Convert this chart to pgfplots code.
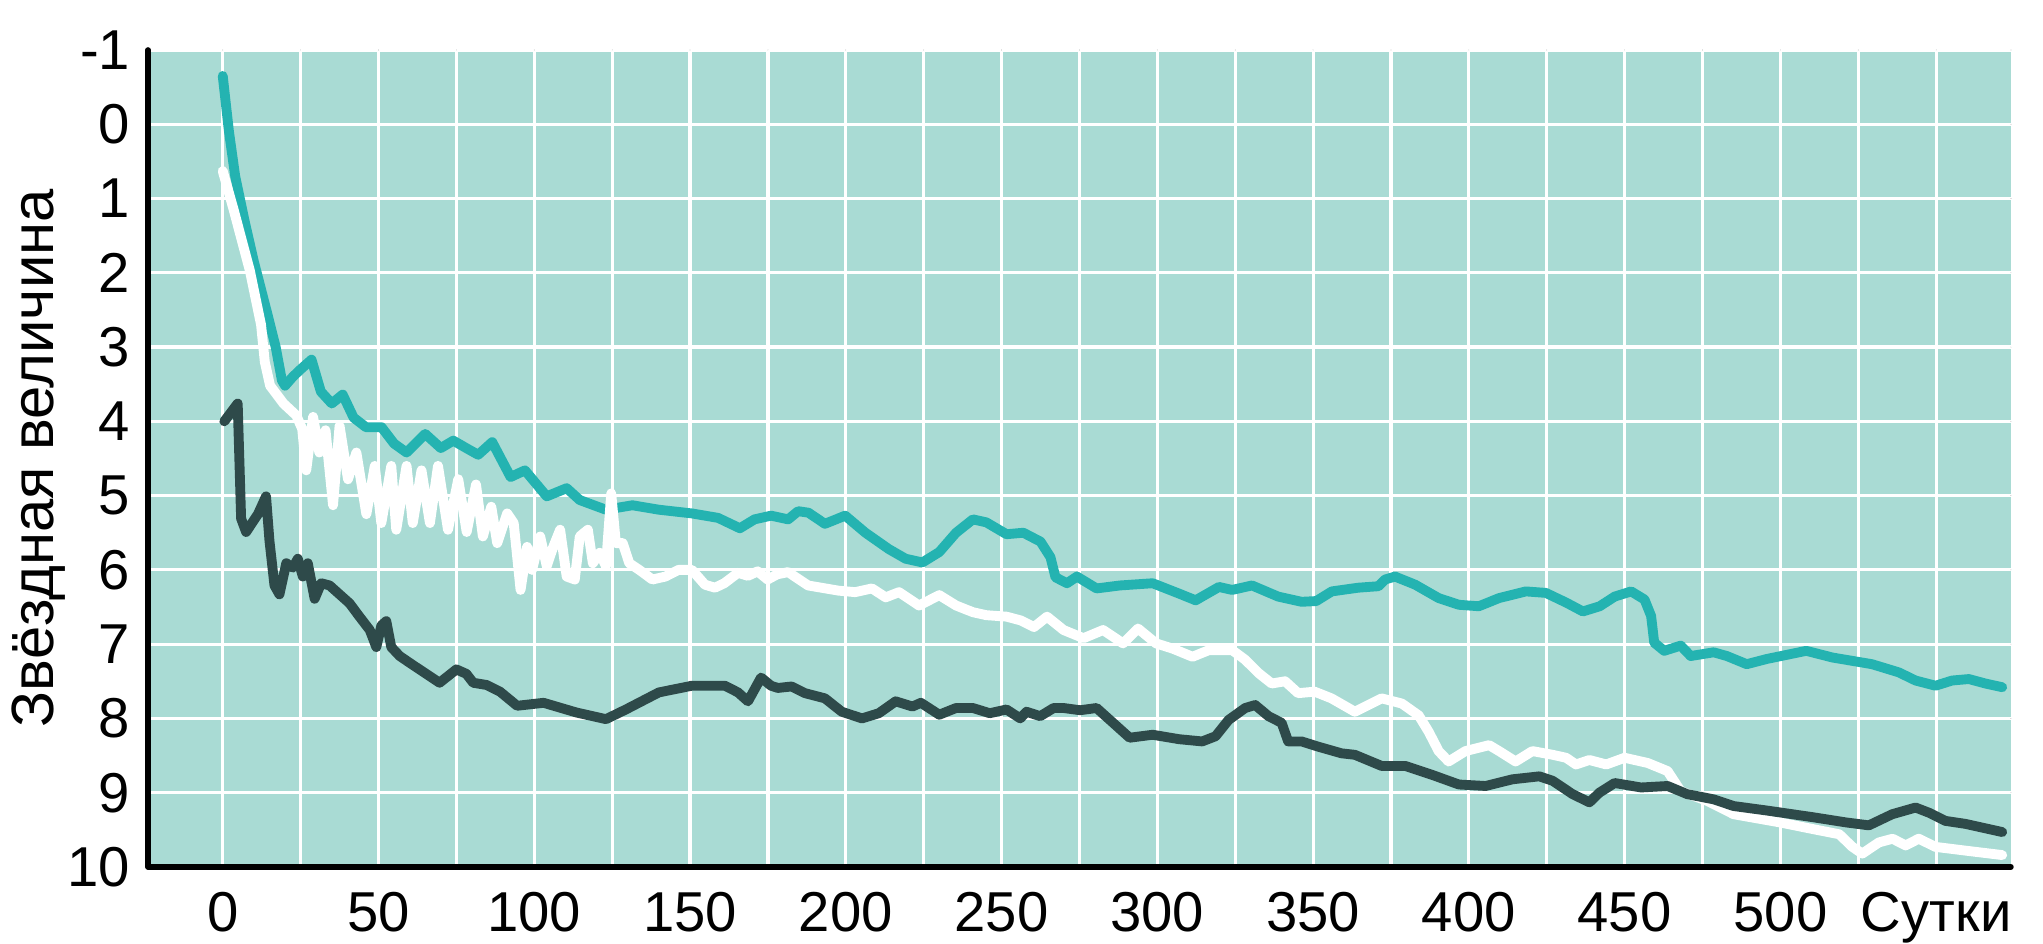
\documentclass[border=0pt]{standalone}
\usepackage{pgfplots}
\pgfplotsset{compat=1.18}
\usepackage{fontspec}
\setmainfont{Liberation Sans}

\definecolor{bgteal}{HTML}{A9DBD4}
\definecolor{lineteal}{HTML}{24B3B1}
\definecolor{linedark}{HTML}{2E4A4A}

\begin{document}
\begin{tikzpicture}
\begin{axis}[
    scale only axis,
    width=18.63cm, height=8.17cm,
    xmin=-24, xmax=574,
    ymin=-1, ymax=10,
    y dir=reverse,
    axis background/.style={fill=bgteal},
    axis line style={draw=none},
    major tick length=0pt, minor tick length=0pt,
    xtick={0,50,...,550},
    xticklabels={0,50,100,150,200,250,300,350,400,450,500,Сутки},
    minor xtick={25,75,...,525},
    ytick={-1,0,...,10},
    yticklabels={-1,0,1,2,3,4,5,6,7,8,9,10},
    grid=both,
    major grid style={white, line width=0.9pt},
    minor grid style={white, line width=0.9pt},
    tick label style={font=\fontsize{16}{19}\selectfont, inner sep=0pt},
    xticklabel style={anchor=north, yshift=-0.25cm},
    yticklabel style={anchor=east, xshift=-0.17cm},
    ylabel={Звёздная величина},
    every axis y label/.style={at={(axis description cs:-0.0585,0.5)},rotate=90,anchor=center,inner sep=0pt,font=\fontsize{17}{20}\selectfont},
    clip=false,
    no markers,
    line join=round, line cap=round,
]
% teal
\addplot[lineteal, line width=2.8pt] coordinates {
(0,-0.65) (2,0.1) (4,0.7) (7,1.3) (10,1.85) (14,2.5) (17,3.0) (19,3.45) (20,3.52)
(22.5,3.4) (25,3.3) (28.5,3.17) (31.5,3.6) (35,3.76) (38.5,3.64) (42,3.95) (46,4.08)
(51,4.08) (55,4.3) (59,4.42) (65,4.17) (70,4.36) (74,4.26) (79,4.38) (82,4.45)
(86.5,4.28) (92.4,4.75) (97,4.66) (104,5.01) (110.4,4.9) (114.6,5.06) (123,5.19)
(131.5,5.13) (140,5.19) (150.6,5.24) (159,5.3) (166,5.44) (170.7,5.32) (176,5.27)
(181.5,5.32) (184.7,5.21) (188,5.23) (193.3,5.38) (199.8,5.27) (206.3,5.5) (213.8,5.72)
(219.2,5.85) (224.6,5.9) (230,5.76) (235.4,5.5) (240.8,5.32) (245.1,5.36) (251.6,5.52)
(257,5.5) (262.5,5.62) (265.7,5.83) (267.3,6.1) (271,6.18) (274.2,6.09) (280.5,6.25)
(288,6.21) (298.5,6.18) (307,6.32) (312.3,6.41) (319.8,6.23) (324,6.27) (330.4,6.21)
(338.8,6.36) (346.3,6.43) (351,6.42) (356,6.29) (364.5,6.24) (371,6.22) (373.1,6.13)
(376.3,6.09) (382.8,6.2) (390.3,6.38) (396.8,6.47) (403.2,6.49) (409.7,6.38) (418.3,6.29)
(424.7,6.31) (431.2,6.44) (436.6,6.56) (442,6.49) (446.8,6.36) (452.1,6.29) (456.4,6.4)
(458.5,6.62) (459.5,6.98) (462.7,7.09) (468,7.02) (471.2,7.16) (478.6,7.11) (482.8,7.16)
(489.2,7.27) (495.6,7.2) (508.3,7.09) (516.7,7.18) (529.4,7.27) (538,7.38) (543.4,7.49)
(549.8,7.56) (555.1,7.49) (560.5,7.47) (565.8,7.53) (571.2,7.58)
};
% white
\addplot[white, line width=2.8pt] coordinates {
(0,0.63) (3.5,1.15) (8.7,1.97) (12.3,2.7) (13.5,3.2) (15.2,3.52) (19.5,3.76) (23.6,3.92)
(25.5,4.1) (26.8,4.66) (29,3.94) (31,4.42) (33,4.12) (35.4,5.13) (37.5,4.06) (40.2,4.78)
(42.9,4.42) (46.1,5.25) (48.8,4.6) (50.9,5.37) (54.1,4.6) (55.7,5.46) (59,4.6) (61,5.37)
(63.8,4.66) (66.5,5.37) (69.1,4.6) (72.3,5.46) (75.6,4.78) (78.3,5.49) (81.3,4.85)
(83.5,5.55) (86.2,5.15) (88.1,5.64) (91.3,5.24) (93.4,5.37) (95.6,6.27) (97.7,5.69)
(99.3,6.0) (101.9,5.55) (104,5.95) (106,5.7) (108.3,5.46) (110.4,6.09) (113,6.13)
(114.6,5.55) (117.2,5.46) (118.8,5.91) (121,5.77) (123,5.95) (124.7,4.97) (126.2,5.64)
(128.4,5.64) (130.5,5.91) (133.7,6.0) (137.9,6.13) (142.1,6.09) (146.3,6.0) (150.6,6.0)
(154.8,6.2) (158,6.24) (161,6.18) (165.4,6.04) (168.6,6.08) (171.7,6.02) (174.9,6.13)
(178,6.06) (181.5,6.03) (187.9,6.21) (197.7,6.28) (203,6.3) (208.4,6.25) (212.8,6.37)
(217.1,6.3) (223.5,6.48) (230,6.34) (235.4,6.48) (240.8,6.57) (245.1,6.61) (251.6,6.63)
(256.1,6.68) (260.4,6.77) (264.6,6.63) (269.9,6.81) (276.3,6.92) (282.6,6.81) (289,6.99)
(293.8,6.79) (299.6,6.99) (304.9,7.06) (311.3,7.17) (316.6,7.08) (324,7.08) (328.2,7.21)
(332.5,7.39) (336.7,7.53) (341,7.5) (345.2,7.66) (350.5,7.64) (355.9,7.73) (363.4,7.91)
(372,7.73) (378.5,7.8) (383.9,7.96) (387.1,8.18) (390.3,8.44) (393.5,8.58) (398.9,8.44)
(406.5,8.36) (409.7,8.44) (415,8.58) (420.4,8.44) (426.9,8.49) (431.2,8.53) (434.4,8.62)
(438.7,8.56) (444.1,8.62) (450,8.53) (457.4,8.6) (463.8,8.71) (468,8.98) (476.5,9.11)
(485,9.29) (499.8,9.4) (510.4,9.49) (518.9,9.56) (523.1,9.73) (526.3,9.82) (531.6,9.67)
(536,9.62) (540.2,9.71) (544.4,9.62) (549.8,9.73) (559.4,9.78) (571.2,9.84)
};
% dark
\addplot[linedark, line width=2.8pt] coordinates {
(0.5,4.0) (4.8,3.76) (5.9,5.31) (7.5,5.49) (11.3,5.25) (13.9,5.01) (15,5.61) (16.6,6.21)
(18.2,6.33) (20.4,5.91) (22.5,5.97) (24.1,5.85) (25.7,6.09) (27.3,5.91) (29.5,6.39)
(31.6,6.18) (34.3,6.21) (37.5,6.33) (40.7,6.45) (43.9,6.63) (47.2,6.81) (49.3,7.04)
(50.9,6.75) (52.5,6.69) (54.1,7.04) (56.8,7.16) (61,7.28) (65.3,7.4) (69.6,7.52)
(75,7.34) (78.2,7.4) (80.4,7.52) (84.7,7.55) (89,7.64) (94.5,7.83) (103,7.79)
(113.5,7.92) (123,8.01) (129.4,7.88) (140,7.65) (150.6,7.56) (161.2,7.56) (165.4,7.65)
(168.6,7.77) (172.8,7.45) (176,7.56) (178.2,7.59) (182.6,7.57) (186.9,7.66) (193.3,7.73)
(198.7,7.91) (205.2,8.0) (210.6,7.93) (216,7.77) (221.4,7.84) (224.1,7.79) (230,7.95)
(235.4,7.86) (240.8,7.86) (246.2,7.93) (251.6,7.88) (256,8.0) (258,7.91) (262.4,7.97)
(266.7,7.86) (269.9,7.86) (275.2,7.89) (280.5,7.86) (285.8,8.06) (291.1,8.26) (298.5,8.22)
(307,8.28) (314.4,8.31) (318.7,8.24) (322.9,8.02) (328.2,7.86) (331.4,7.82) (335.7,7.97)
(339.9,8.06) (342,8.31) (346.3,8.31) (351.6,8.38) (359.1,8.47) (363.4,8.49) (372,8.64)
(379.6,8.64) (388.2,8.76) (396.8,8.89) (405.4,8.91) (414,8.82) (422.6,8.78) (426.9,8.84)
(433.3,9.02) (438.7,9.13) (441.9,9.0) (446.8,8.87) (455.3,8.93) (463.8,8.91) (470.1,9.02)
(478.6,9.09) (485,9.18) (495.6,9.24) (510.4,9.33) (521,9.4) (528.4,9.44) (535.9,9.29)
(543.4,9.2) (547.7,9.27) (553,9.38) (559.4,9.42) (571.2,9.53)
};
% axis lines, left and bottom
\draw[black, line width=1.6pt] (axis cs:-24,-1) -- (axis cs:-24,10) -- (axis cs:574,10);
% page size as in the reference
\path (axis cs:-71.5,-1.673) rectangle (axis cs:584.3,11.0);
\end{axis}
\end{tikzpicture}
\end{document}
